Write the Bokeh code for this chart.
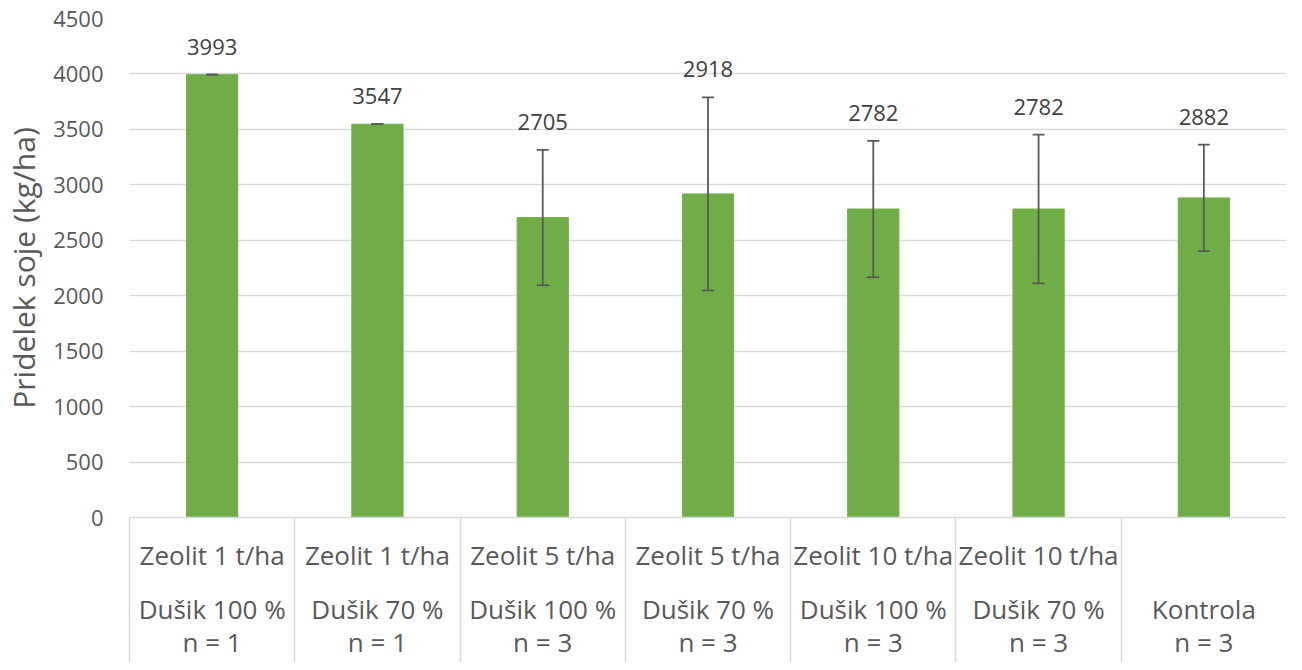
from bokeh.plotting import figure
from bokeh.models import (ColumnDataSource, Range1d, FixedTicker, Whisker, LabelSet,
                          TeeHead, LinearAxis)
from bokeh.core.properties import value
from bokeh.embed import file_html
from bokeh.resources import INLINE

# ---- data ----
zeolit = ["Zeolit 1 t/ha", "Zeolit 1 t/ha", "Zeolit 5 t/ha", "Zeolit 5 t/ha",
          "Zeolit 10 t/ha", "Zeolit 10 t/ha", ""]
dusik = ["Dušik 100 %", "Dušik 70 %", "Dušik 100 %", "Dušik 70 %",
         "Dušik 100 %", "Dušik 70 %", "Kontrola"]
n_labels = ["n = 1", "n = 1", "n = 3", "n = 3", "n = 3", "n = 3", "n = 3"]
yields = [3993, 3547, 2705, 2918, 2782, 2782, 2882]
errors = [0, 0, 610, 870, 615, 670, 480]
y_ticks = list(range(0, 4501, 500))

FONT = "Open Sans"
GREY = "#595959"
GRID = "#D9D9D9"
SEP = 150  # separator line length below axis (px)

n = len(yields)
xs = [i + 0.5 for i in range(n)]
src = ColumnDataSource(dict(
    x=xs,
    y=yields,
    upper=[v + e for v, e in zip(yields, errors)],
    lower=[v - e for v, e in zip(yields, errors)],
    label=[str(v) for v in yields],
))

p = figure(width=1286, height=662, output_backend="svg", toolbar_location=None,
           x_range=Range1d(0, n), y_range=Range1d(0, 4500),
           min_border_left=125, min_border_right=0, min_border_top=18,
           min_border_bottom=142)
p.outline_line_color = None
p.background_fill_color = "white"
p.border_fill_color = "white"

p.vbar(x="x", top="y", width=0.31, source=src, fill_color="#70AD47",
       line_color="#70AD47")

wh = Whisker(source=src, base="x", upper="upper", lower="lower",
             line_color=GREY, line_width=1.8, level="overlay",
             upper_head=TeeHead(size=12, line_color=GREY, line_width=1.8),
             lower_head=TeeHead(size=12, line_color=GREY, line_width=1.8))
p.add_layout(wh)

labels = LabelSet(x="x", y="upper", text="label", source=src, y_offset=28,
                  text_align="center", text_baseline="middle",
                  text_font=value(FONT), text_font_size="22px", text_color="#404040")
p.add_layout(labels)

# y axis
p.yaxis.ticker = FixedTicker(ticks=y_ticks)
p.yaxis.axis_line_color = None
p.yaxis.major_tick_line_color = None
p.yaxis.minor_tick_line_color = None
p.yaxis.major_label_text_font = FONT
p.yaxis.major_label_text_font_size = "22px"
p.yaxis.major_label_text_color = GREY
p.yaxis.major_label_standoff = 20
p.yaxis.axis_label = "Pridelek soje (kg/ha)"
p.yaxis.axis_label_text_font = FONT
p.yaxis.axis_label_text_font_size = "30px"
p.yaxis.axis_label_text_font_style = "normal"
p.yaxis.axis_label_text_color = GREY
p.yaxis.axis_label_standoff = 6

p.ygrid.ticker = FixedTicker(ticks=y_ticks)
p.ygrid.grid_line_color = GRID
p.ygrid.grid_line_width = 1.5
p.xgrid.grid_line_color = None

# inner category level (Zeolit) + separator lines at boundaries (as minor ticks)
xa = p.xaxis[0]
xa.ticker = FixedTicker(ticks=xs, minor_ticks=list(range(n)))
xa.major_label_overrides = {x: (z if z else " ") for x, z in zip(xs, zeolit)}
xa.axis_line_color = GRID
xa.axis_line_width = 1.5
xa.major_tick_out = 0
xa.major_tick_in = 0
xa.minor_tick_in = 0
xa.minor_tick_out = SEP
xa.minor_tick_line_color = GRID
xa.minor_tick_line_width = 1.5
xa.major_label_text_font = FONT
xa.major_label_text_font_size = "26px"
xa.major_label_text_color = GREY
xa.major_label_standoff = 19 - SEP

# outer category level (Dušik / n)
xb = LinearAxis(ticker=FixedTicker(ticks=xs))
xb.major_label_overrides = {x: f"{d}\n{m}" for x, d, m in zip(xs, dusik, n_labels)}
xb.axis_line_color = None
xb.major_tick_line_color = None
xb.minor_tick_line_color = None
xb.major_label_text_font = FONT
xb.major_label_text_font_size = "26px"
xb.major_label_text_color = GREY
xb.major_label_text_line_height = 0.92
xb.major_label_standoff = 9
p.add_layout(xb, "below")

open("out.html", "w").write(file_html(p, INLINE))
